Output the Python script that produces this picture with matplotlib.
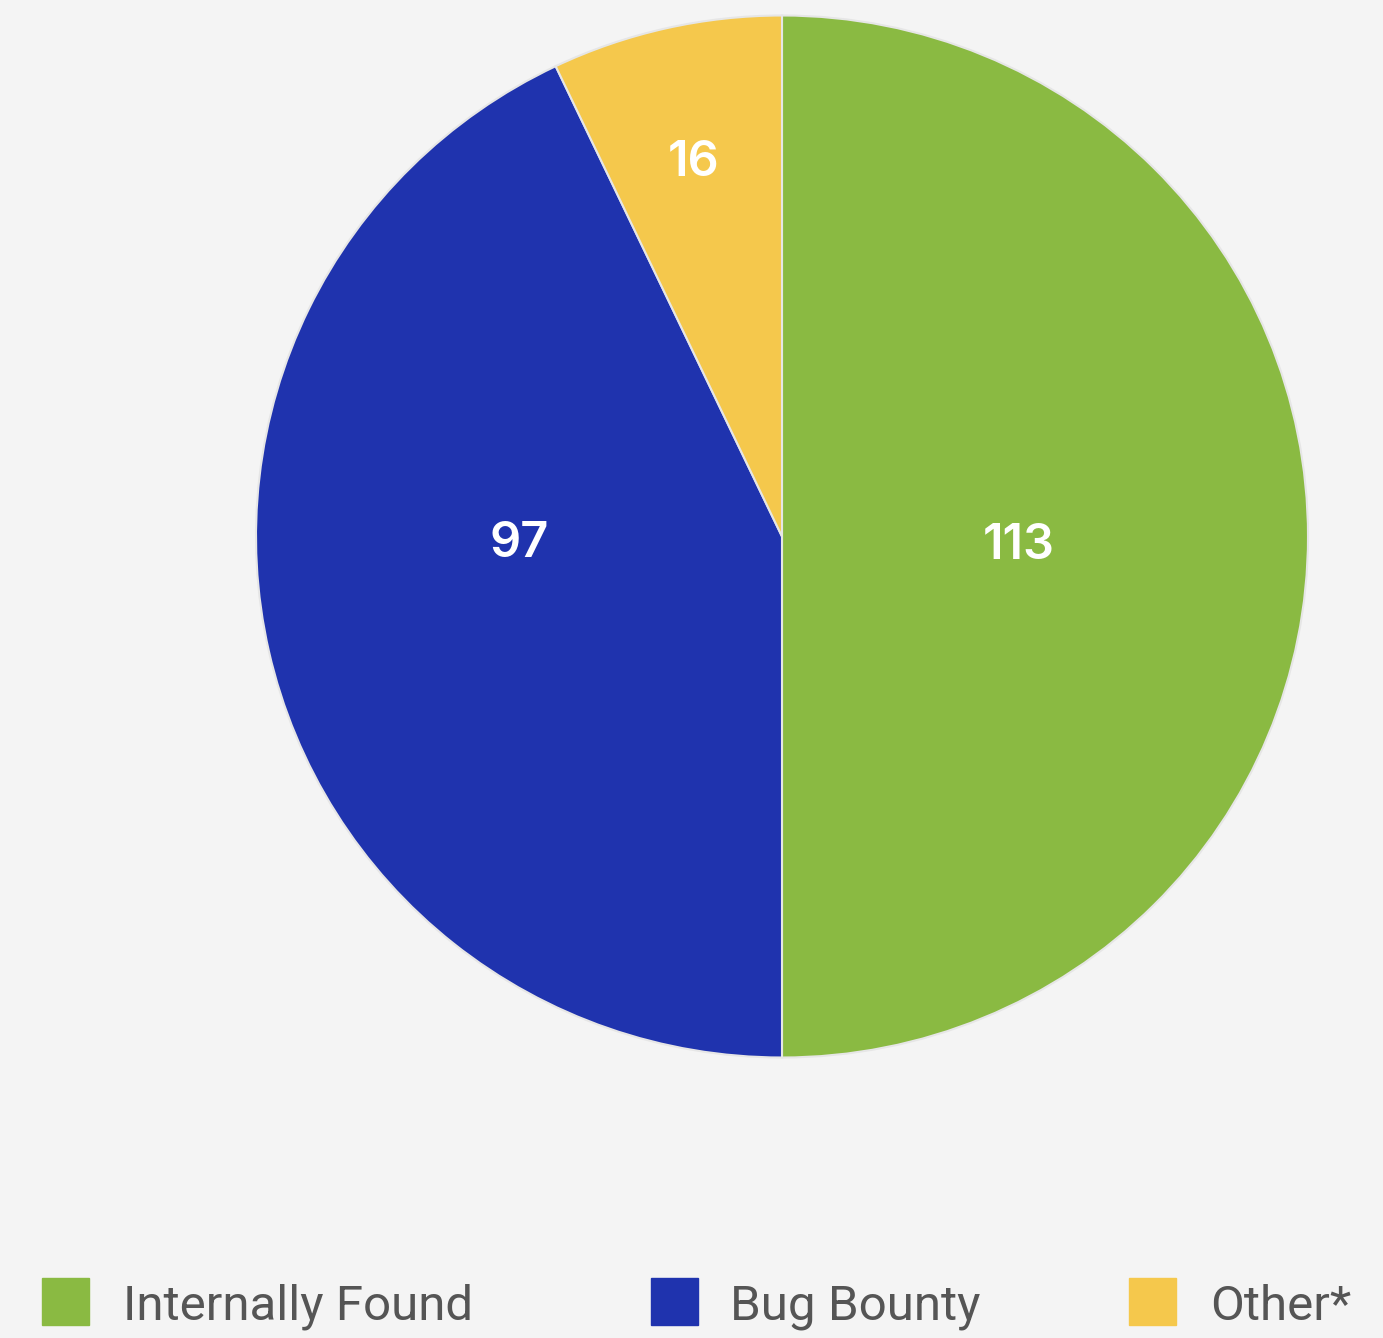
import matplotlib
matplotlib.use("Agg")
import matplotlib.pyplot as plt
from matplotlib.patches import Rectangle
import numpy as np

# issue sources
categories = ["Internally Found", "Bug Bounty", "Other*"]
counts = [113, 97, 16]
colors = ["#8aba42", "#1f33ae", "#f5c84c"]

# where each count label sits: (angle in degrees, fraction of radius)
label_spots = [(-1.0, 0.45), (180.5, 0.50), (103.0, 0.745)]

W, H = 1383, 1338
cx, cy = 782, 536.5
rx, ry = 526, 521

fig = plt.figure(figsize=(W / 100, H / 100), dpi=100, facecolor="#f4f4f4")
ax = fig.add_axes([0, 0, 1, 1])
ax.set_facecolor("#f4f4f4")

wedges, _ = ax.pie(counts, colors=colors, startangle=90, counterclock=False,
                   radius=1.0, center=(0, 0), frame=False,
                   wedgeprops=dict(edgecolor="#e6e6e6", linewidth=1.5))
ax.set_xlim(-cx / rx, (W - cx) / rx)
ax.set_ylim(-(H - cy) / ry, cy / ry)
ax.set_aspect("auto")
ax.axis("off")

for n, (ang, frac) in zip(counts, label_spots):
    a = np.deg2rad(ang)
    ax.text(frac * np.cos(a), frac * np.sin(a), str(n), color="white",
            fontsize=35, fontweight="semibold", family="Inter",
            ha="center", va="center_baseline")

# legend along the bottom
box_x = [42, 651, 1129]
text_x = [123, 730, 1210]
for c, name, bx, tx in zip(colors, categories, box_x, text_x):
    fig.patches.append(Rectangle((bx / W, 1 - 1325 / H), 47 / W, 47 / H,
                                 transform=fig.transFigure, color=c))
    fig.text(tx / W, 1 - 1302 / H, name, color="#555555", fontsize=35.5,
             family="Roboto", ha="left", va="center_baseline")

fig.savefig("out.png", dpi=100, facecolor=fig.get_facecolor())
